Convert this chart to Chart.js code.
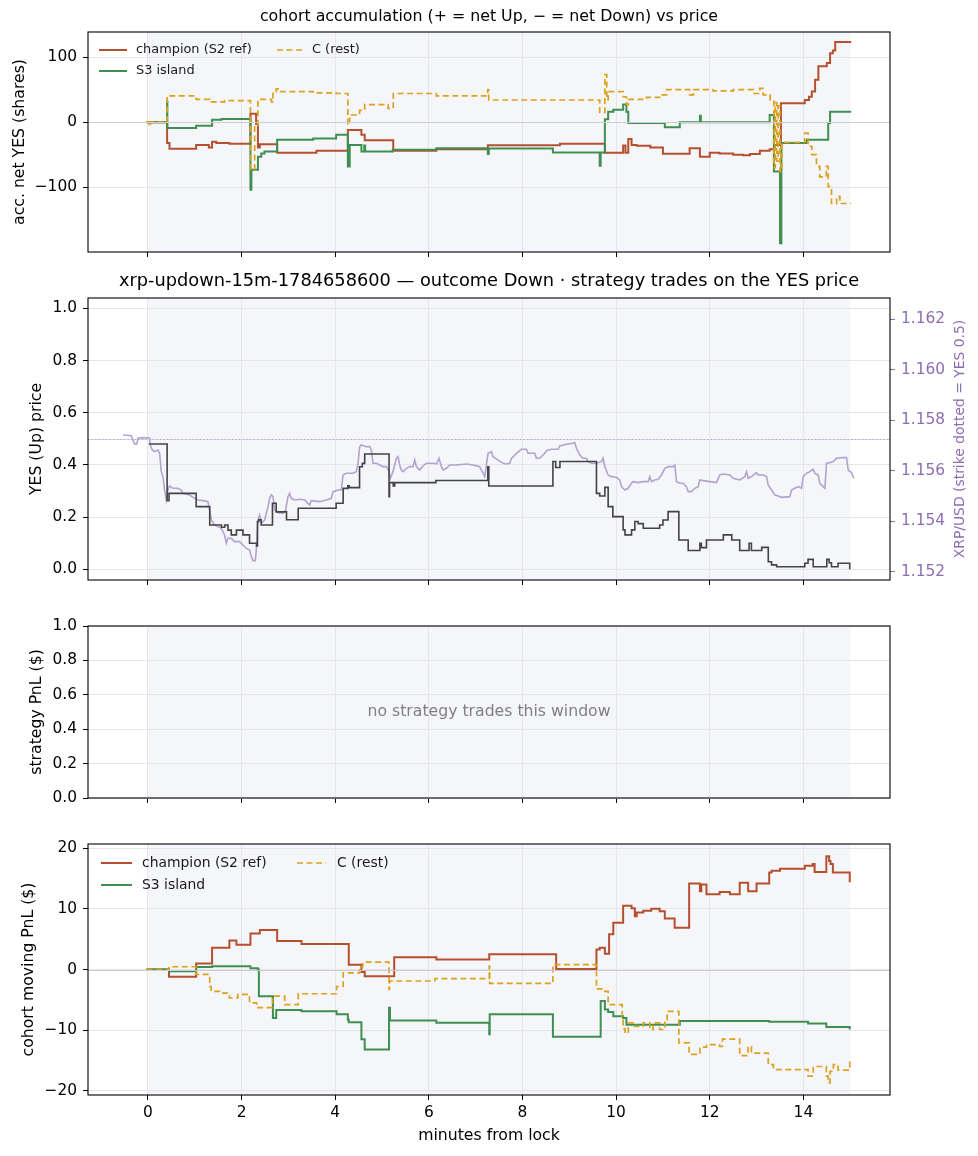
<!DOCTYPE html>
<html>
<head>
<meta charset="utf-8">
<script src="https://cdn.jsdelivr.net/npm/chart.js@4.4.1/dist/chart.umd.min.js"></script>
<style>
  html, body { margin: 0; padding: 0; background: #ffffff; overflow: hidden; }
  body { width: 978px; height: 1156px; position: relative; }
  canvas { position: absolute; left: 0; }
</style>
</head>
<body>
<canvas id="c1" width="978" height="275" style="top:0px"></canvas>
<canvas id="c2" width="978" height="348" style="top:262px"></canvas>
<canvas id="c3" width="978" height="220" style="top:600px"></canvas>
<canvas id="c4" width="978" height="336" style="top:820px"></canvas>
<script>
// ---------------- data ----------------
const X_TICKS = [0, 2, 4, 6, 8, 10, 12, 14];
const LOCK_SPAN = [0, 15];
const ACC_TICKS = [-100, 0, 100];
const YES_TICKS = [0, 0.2, 0.4, 0.6, 0.8, 1.0];
const XRP_TICKS = [1.152, 1.154, 1.156, 1.158, 1.160, 1.162];
const STRAT_TICKS = [0, 0.2, 0.4, 0.6, 0.8, 1.0];
const PNL_TICKS = [-20, -10, 0, 10, 20];
const STRIKE = 1.15727;
const seriesNames = ['champion (S2 ref)', 'S3 island', 'C (rest)'];

// accumulated net YES shares, [minute, shares]
const accChampion = [[-0.03,0],[0.41,-32],[0.46,-41],[1.03,-35],[1.30,-39],[1.37,-30],[1.46,-32],[1.74,-33],[2.19,13],[2.31,-3],[2.35,-39],[2.39,-34],[2.76,-47],[3.60,-44],[4.27,-12],[4.56,-19.5],[4.63,-28],[5.24,-44],[6.16,-41.5],[7.26,-35.4],[8.80,-33.3],[9.76,-47],[10.15,-36],[10.20,-47],[10.26,-26],[10.33,-35],[10.44,-36.4],[10.73,-39],[11.00,-48.7],[11.57,-40],[11.79,-53],[12.00,-47],[12.21,-48],[12.50,-50],[12.71,-51],[12.86,-49],[13.07,-44],[13.28,-41.5],[13.39,-35],[13.52,29],[14.03,34],[14.12,39],[14.18,47],[14.25,65],[14.32,86],[14.50,91],[14.57,106],[14.63,110],[14.68,123],[15.02,123]];
const accS3 = [[-0.03,0],[0.41,32],[0.415,-9],[1.03,-5.6],[1.37,3.6],[1.57,5],[2.19,-104],[2.21,-73],[2.35,-53],[2.42,-48],[2.49,-45],[2.76,-27],[3.53,-25],[4.02,-19.5],[4.27,-68],[4.31,-35],[4.56,-45],[4.62,-36],[4.64,-45],[5.23,-42.5],[6.16,-40],[7.26,-49],[7.28,-40.5],[8.65,-46.7],[9.65,-67],[9.67,-46.7],[9.76,4.6],[9.83,16],[9.94,19],[10.15,27],[10.22,16],[10.26,-1.5],[11.04,-7.7],[11.36,0],[11.79,10],[11.81,0],[13.28,11],[13.37,-76],[13.50,-186],[13.53,-32],[14.07,-27],[14.53,-1.5],[14.57,16],[15.02,16]];
const accC = [[-0.03,0],[0.03,-6],[0.06,0],[0.41,40.5],[1.03,35],[1.32,31],[1.64,33],[2.19,-73],[2.28,-5],[2.35,35],[2.64,31],[2.67,47],[2.74,51],[2.81,47],[3.53,45],[4.02,44],[4.27,-4],[4.31,11],[4.52,18],[4.63,27],[5.13,21],[5.24,44],[6.16,40.5],[7.26,50],[7.28,34],[9.65,15],[9.76,73],[9.80,34],[9.83,47],[10.15,39],[10.22,27],[10.26,35],[10.65,38],[10.93,42],[11.08,50],[11.57,42],[11.65,50],[12.07,48],[12.50,50],[12.93,44],[13.07,52],[13.14,42],[13.29,34],[13.37,-70],[13.40,30],[13.43,-60],[13.46,25],[13.50,-76],[13.54,-31],[14.03,-17],[14.10,-37],[14.18,-50],[14.28,-68],[14.35,-84],[14.49,-68],[14.53,-99],[14.60,-125],[14.71,-114],[14.78,-125],[15.02,-125]];

// YES (Up) price, [minute, price]
const yesPrice = [[0.02,0.48],[0.41,0.263],[0.45,0.291],[1.03,0.24],[1.32,0.17],[1.57,0.161],[1.64,0.17],[1.71,0.15],[1.78,0.132],[1.89,0.15],[2.03,0.132],[2.17,0.10],[2.32,0.089],[2.34,0.183],[2.37,0.19],[2.42,0.17],[2.66,0.253],[2.74,0.22],[2.96,0.19],[3.21,0.234],[4.02,0.253],[4.17,0.31],[4.27,0.32],[4.30,0.313],[4.52,0.393],[4.58,0.406],[4.63,0.442],[5.15,0.278],[5.16,0.332],[5.24,0.319],[5.27,0.332],[6.15,0.34],[7.26,0.393],[7.28,0.319],[8.65,0.413],[8.71,0.39],[8.80,0.413],[9.58,0.291],[9.65,0.281],[9.76,0.314],[9.83,0.24],[9.93,0.202],[10.15,0.151],[10.19,0.132],[10.33,0.151],[10.40,0.183],[10.47,0.175],[10.58,0.157],[10.93,0.17],[11.00,0.189],[11.11,0.221],[11.34,0.112],[11.54,0.072],[11.79,0.10],[11.82,0.083],[11.93,0.112],[12.29,0.132],[12.47,0.112],[12.64,0.072],[12.84,0.10],[12.89,0.072],[13.11,0.084],[13.25,0.029],[13.32,0.017],[13.43,0.010],[14.03,0.023],[14.10,0.038],[14.21,0.010],[14.50,0.038],[14.55,0.025],[14.60,0.010],[14.74,0.023],[14.99,0.0]];

// XRP/USD spot, [minute, price]
const xrpUsd = [[-0.534,1.157415],[-0.356,1.157388],[-0.321,1.157217],[-0.285,1.157058],[-0.235,1.157058],[-0.214,1.157283],[-0.107,1.157309],[0.036,1.157283],[0.050,1.157019],[0.093,1.156820],[0.142,1.156754],[0.214,1.156820],[0.249,1.156688],[0.285,1.155962],[0.321,1.155764],[0.356,1.155236],[0.392,1.154839],[0.427,1.155236],[0.463,1.155394],[0.534,1.155302],[0.641,1.155302],[0.712,1.155236],[0.748,1.155104],[0.890,1.155038],[0.997,1.154905],[1.068,1.154839],[1.175,1.154813],[1.282,1.154773],[1.318,1.154443],[1.353,1.154047],[1.425,1.153849],[1.496,1.153783],[1.567,1.153717],[1.638,1.153453],[1.674,1.153123],[1.709,1.153321],[1.781,1.153321],[1.852,1.153189],[1.959,1.153189],[2.030,1.153057],[2.101,1.152924],[2.172,1.152858],[2.208,1.152594],[2.244,1.152436],[2.293,1.152436],[2.315,1.152858],[2.350,1.154047],[2.386,1.154245],[2.422,1.153915],[2.493,1.154047],[2.564,1.154575],[2.600,1.154905],[2.635,1.155038],[2.671,1.154971],[2.707,1.154443],[2.778,1.154338],[2.885,1.154311],[2.942,1.154443],[2.991,1.154971],[3.027,1.155104],[3.063,1.154905],[3.134,1.154839],[3.241,1.154866],[3.348,1.154839],[3.383,1.154773],[3.454,1.154641],[3.490,1.154813],[3.668,1.154773],[3.810,1.154839],[3.917,1.154905],[3.953,1.155170],[4.060,1.155236],[4.131,1.155236],[4.167,1.155830],[4.238,1.155896],[4.380,1.155896],[4.452,1.155962],[4.487,1.156292],[4.523,1.156952],[4.558,1.157019],[4.665,1.156952],[4.736,1.156952],[4.772,1.156820],[4.808,1.156292],[4.879,1.156292],[4.950,1.156226],[5.021,1.156160],[5.093,1.156160],[5.150,1.155962],[5.178,1.155698],[5.235,1.155962],[5.306,1.156490],[5.342,1.156556],[5.377,1.156226],[5.413,1.156028],[5.449,1.155962],[5.520,1.156094],[5.591,1.156160],[5.662,1.156160],[5.698,1.156424],[5.734,1.156160],[5.805,1.156028],[5.876,1.156187],[5.947,1.156292],[6.090,1.156292],[6.161,1.156266],[6.218,1.156490],[6.268,1.156160],[6.303,1.156028],[6.375,1.156094],[6.446,1.156226],[6.588,1.156226],[6.802,1.156266],[6.944,1.156226],[7.087,1.156160],[7.194,1.155764],[7.265,1.156688],[7.336,1.156754],[7.372,1.156556],[7.514,1.156380],[7.585,1.156292],[7.657,1.156266],[7.728,1.156292],[7.764,1.156490],[7.870,1.156688],[7.977,1.156847],[8.084,1.156847],[8.120,1.156688],[8.262,1.156688],[8.298,1.156490],[8.369,1.156490],[8.476,1.156688],[8.511,1.156794],[8.618,1.156847],[8.761,1.156847],[8.796,1.156979],[8.939,1.157045],[9.081,1.157085],[9.117,1.157111],[9.152,1.156887],[9.224,1.156622],[9.295,1.156490],[9.366,1.156490],[9.402,1.156358],[9.473,1.156292],[9.580,1.156292],[9.687,1.156358],[9.722,1.156490],[9.758,1.156160],[9.829,1.155830],[9.900,1.155764],[10.007,1.155737],[10.078,1.155632],[10.114,1.155368],[10.185,1.155236],[10.256,1.155302],[10.328,1.155500],[10.363,1.155566],[10.470,1.155526],[10.577,1.155566],[10.684,1.155566],[10.719,1.155764],[10.755,1.155566],[10.826,1.155632],[10.897,1.155658],[10.969,1.155830],[11.040,1.156094],[11.111,1.156160],[11.218,1.156160],[11.254,1.156226],[11.289,1.155566],[11.360,1.155500],[11.432,1.155500],[11.503,1.155368],[11.538,1.155170],[11.610,1.155170],[11.681,1.155302],[11.752,1.155368],[11.788,1.155632],[11.859,1.155605],[12.001,1.155566],[12.144,1.155526],[12.215,1.155830],[12.286,1.155870],[12.429,1.155830],[12.500,1.155698],[12.643,1.155632],[12.749,1.155764],[12.785,1.155962],[12.821,1.155698],[12.892,1.155764],[12.999,1.155922],[13.034,1.155830],[13.141,1.155830],[13.212,1.155764],[13.248,1.155434],[13.319,1.155236],[13.390,1.155038],[13.462,1.154998],[13.533,1.154945],[13.711,1.154971],[13.747,1.155236],[13.818,1.155302],[13.889,1.155368],[13.960,1.155302],[13.996,1.155764],[14.067,1.155896],[14.138,1.155962],[14.210,1.156054],[14.245,1.155896],[14.316,1.155830],[14.352,1.155500],[14.423,1.155368],[14.459,1.155302],[14.494,1.156292],[14.566,1.156319],[14.637,1.156358],[14.708,1.156490],[14.851,1.156517],[14.922,1.156517],[14.957,1.156028],[15.028,1.155922],[15.078,1.155698]];

// strategy PnL: no strategy trades this window
const strategyPnl = [];

// cohort moving PnL ($), [minute, dollars]
const pnlChampion = [[-0.03,0],[0.45,-1.2],[1.03,1.0],[1.37,3.6],[1.74,4.8],[1.89,4.1],[2.19,5.95],[2.39,6.5],[2.76,4.7],[3.28,4.2],[4.29,0.8],[4.56,-0.4],[4.63,-1.1],[5.26,2.0],[6.16,1.65],[7.29,2.5],[8.72,0.1],[9.58,3.3],[9.65,3.6],[9.76,2.6],[9.85,5.8],[9.94,7.7],[10.15,10.5],[10.33,10.1],[10.40,8.8],[10.44,9.4],[10.58,9.7],[10.75,10.0],[10.93,9.6],[11.04,8.4],[11.25,6.9],[11.56,14.2],[11.79,12.9],[11.82,14.0],[11.93,12.4],[12.21,12.8],[12.43,12.4],[12.64,14.3],[12.82,12.9],[13.00,14.2],[13.27,16.0],[13.32,16.3],[13.50,16.6],[14.03,17.1],[14.20,17.4],[14.24,16.1],[14.49,18.7],[14.55,17.9],[14.58,17.4],[14.63,16.0],[14.99,14.4]];
const pnlS3 = [[-0.03,0],[0.45,-0.3],[1.03,0.4],[1.37,0.55],[2.19,0.2],[2.35,0],[2.37,-4.4],[2.67,-8.0],[2.74,-6.7],[3.28,-6.9],[4.03,-7.4],[4.27,-8.3],[4.29,-8.7],[4.56,-11.5],[4.63,-13.2],[5.15,-6.3],[5.17,-8.4],[6.16,-8.8],[7.29,-10.7],[7.30,-7.4],[8.65,-11.1],[9.67,-5.2],[9.76,-6.6],[9.83,-7.0],[9.94,-7.7],[10.15,-8.0],[10.22,-9.1],[11.36,-8.5],[13.27,-8.6],[14.10,-8.9],[14.49,-9.5],[14.99,-9.9]];
const pnlC = [[-0.03,0],[0.45,0.45],[1.03,-0.8],[1.32,-2.8],[1.35,-3.6],[1.60,-3.9],[1.74,-4.7],[1.92,-4.1],[2.17,-5.5],[2.32,-6.3],[2.66,-4.4],[2.92,-5.8],[3.21,-4.0],[4.03,-2.8],[4.17,-0.55],[4.52,0.45],[4.59,1.2],[5.15,-3.3],[5.16,-1.9],[6.13,-1.5],[7.29,0.55],[7.30,-2.3],[8.65,0.8],[9.58,-3.2],[9.76,-3.6],[9.83,-5.8],[10.13,-7.7],[10.15,-9.8],[10.19,-10.5],[10.26,-8.8],[10.36,-9.4],[10.58,-8.8],[10.72,-9.9],[10.79,-8.8],[10.93,-9.9],[11.04,-8.3],[11.09,-6.9],[11.34,-12.1],[11.56,-14.0],[11.79,-12.8],[11.93,-12.4],[12.21,-12.7],[12.27,-11.5],[12.64,-14.2],[12.82,-12.7],[12.89,-13.8],[13.25,-15.7],[13.36,-16.5],[14.10,-17.6],[14.21,-16.0],[14.49,-17.6],[14.53,-18.7],[14.57,-16.8],[14.64,-15.7],[14.74,-16.6],[14.99,-14.6]];

// ---------------- styling ----------------
const FONT = "'DejaVu Sans', 'Noto Sans', sans-serif";
Chart.defaults.font.family = FONT;
Chart.defaults.color = '#000000';
const RED = '#b5502f', GREEN = '#3f8e52', GOLD = '#dba11f';
const INK = '#434343', PURPLE_LINE = '#b4a2cf', PURPLE_TXT = '#8f6db5';
const GRID = '#e5e5ea', SPAN_BG = '#f5f6fa', ZERO = '#cdcdcd';
const X_MIN = -1.28, X_MAX = 15.85;
const TICK_PX = 15.4;
const LABEL_PX = 15.7;

const xy = arr => arr.map(p => ({ x: p[0], y: p[1] }));
function fmt(v, dec) {
  const s = Math.abs(v).toFixed(dec);
  return (v < 0 && Number(s) !== 0 ? '\u2212' : '') + s;
}

function xAxis(showLabels, height, title) {
  return {
    type: 'linear', min: X_MIN, max: X_MAX,
    afterBuildTicks: s => { s.ticks = X_TICKS.map(v => ({ value: v })); },
    afterFit: s => { s.height = height; },
    ticks: { display: showLabels, autoSkip: false, maxRotation: 0, includeBounds: false,
             padding: 4, font: { size: TICK_PX }, color: '#000', callback: v => fmt(v, 0) },
    grid: { color: GRID, lineWidth: 1, tickColor: '#000', tickLength: 5, tickWidth: 1 },
    border: { display: false },
    title: title ? { display: true, text: title, font: { size: LABEL_PX }, color: '#000',
                     padding: { top: 0, bottom: 11 } } : { display: false }
  };
}
function yAxis(min, max, ticks, dec, title, titlePad) {
  return {
    type: 'linear', position: 'left', min, max,
    afterBuildTicks: s => { s.ticks = ticks.map(v => ({ value: v })); },
    afterFit: s => { s.width = 88; },
    ticks: { autoSkip: false, padding: 6, font: { size: TICK_PX }, color: '#000', callback: v => fmt(v, dec) },
    grid: { color: GRID, lineWidth: 1, tickColor: '#000', tickLength: 5 },
    border: { display: false },
    title: { display: true, text: title, font: { size: LABEL_PX }, color: '#000',
             padding: { top: titlePad, bottom: 0 } }
  };
}
function stepSet(data, color, width, dash, order, axis) {
  return { data: xy(data), borderColor: color, borderWidth: width, borderDash: dash || [],
           stepped: true, pointRadius: 0, fill: false, order: order, yAxisID: axis || 'y',
           borderCapStyle: 'butt', borderJoinStyle: 'miter' };
}

const decor = {
  id: 'decor',
  beforeDraw(chart, args, o) {
    const { ctx, chartArea: a, scales } = chart;
    const x0 = scales.x.getPixelForValue(LOCK_SPAN[0]);
    const x1 = scales.x.getPixelForValue(LOCK_SPAN[1]);
    ctx.save();
    ctx.fillStyle = SPAN_BG;
    ctx.fillRect(x0, a.top, x1 - x0, a.bottom - a.top);
    ctx.restore();
  },
  beforeDatasetsDraw(chart, args, o) {
    const { ctx, chartArea: a, scales } = chart;
    if (o.strike) {
      const py = Math.round(scales.y1.getPixelForValue(STRIKE)) + 0.5;
      ctx.save();
      ctx.strokeStyle = '#dcdce2'; ctx.lineWidth = 1;
      ctx.beginPath(); ctx.moveTo(a.left, py); ctx.lineTo(a.right, py); ctx.stroke();
      ctx.strokeStyle = '#b39fd3'; ctx.setLineDash([1.2, 2.4]);
      ctx.beginPath(); ctx.moveTo(a.left, py); ctx.lineTo(a.right, py); ctx.stroke();
      ctx.restore();
    }
  },
  afterDatasetsDraw(chart, args, o) {
    const { ctx, chartArea: a, scales } = chart;
    if (o.zero) {
      const py = Math.round(scales.y.getPixelForValue(0)) + 0.5;
      ctx.save();
      ctx.strokeStyle = ZERO; ctx.lineWidth = 1;
      ctx.beginPath(); ctx.moveTo(a.left, py); ctx.lineTo(a.right, py); ctx.stroke();
      ctx.restore();
    }
  },
  afterDraw(chart, args, o) {
    const { ctx, chartArea: a } = chart;
    ctx.save();
    ctx.strokeStyle = '#000'; ctx.lineWidth = 1.1;
    ctx.strokeRect(a.left, a.top, a.right - a.left, a.bottom - a.top);
    if (o.title) {
      ctx.fillStyle = '#000'; ctx.textAlign = 'center'; ctx.textBaseline = 'middle';
      ctx.font = o.title.size + 'px ' + FONT;
      ctx.fillText(o.title.text, (a.left + a.right) / 2, o.title.y);
    }
    if (o.note) {
      ctx.fillStyle = '#808080'; ctx.textAlign = 'center'; ctx.textBaseline = 'middle';
      ctx.font = LABEL_PX + 'px ' + FONT;
      ctx.fillText(o.note, (a.left + a.right) / 2, (a.top + a.bottom) / 2);
    }
    if (o.rightLabel) {
      ctx.translate(o.rightLabel.x, (a.top + a.bottom) / 2 + o.rightLabel.dy);
      ctx.rotate(-Math.PI / 2);
      ctx.fillStyle = PURPLE_TXT; ctx.textAlign = 'center'; ctx.textBaseline = 'middle';
      ctx.font = o.rightLabel.size + 'px ' + FONT;
      ctx.fillText(o.rightLabel.text, 0, 0);
    }
    ctx.restore();
    if (o.legend) {
      const L = o.legend;
      ctx.save();
      ctx.font = L.size + 'px ' + FONT;
      ctx.textAlign = 'left'; ctx.textBaseline = 'middle';
      L.items.forEach(it => {
        const y = a.top + it.dy;
        ctx.strokeStyle = it.color; ctx.lineWidth = it.w;
        ctx.setLineDash(it.dash ? it.dash : []);
        ctx.beginPath(); ctx.moveTo(it.x0, y); ctx.lineTo(it.x1, y); ctx.stroke();
        ctx.setLineDash([]);
        ctx.fillStyle = '#1a1a1a';
        ctx.fillText(it.text, it.tx, y);
      });
      ctx.restore();
    }
  }
};
Chart.register(decor);

function baseOptions(padding, decorOpts, scales) {
  return {
    responsive: false, animation: false, events: [],
    layout: { padding },
    plugins: { legend: { display: false }, tooltip: { enabled: false }, decor: decorOpts },
    scales
  };
}

// ---------------- panel 1: accumulation ----------------
new Chart(document.getElementById('c1'), {
  type: 'line',
  data: { datasets: [
    stepSet(accChampion, RED, 2, null, 3),
    stepSet(accS3, GREEN, 2, null, 2),
    stepSet(accC, GOLD, 1.7, [6, 3.5], 1)
  ] },
  options: baseOptions({ top: 32, right: 88, bottom: 0, left: 0 }, {
    zero: true,
    title: { text: 'cohort accumulation (+ = net Up, \u2212 = net Down) vs price', y: 17, size: 15.8 },
    legend: { size: 12.9, items: [
      { text: seriesNames[0], color: RED, w: 2, x0: 99, x1: 127, tx: 136, dy: 18 },
      { text: seriesNames[1], color: GREEN, w: 2, x0: 99, x1: 127, tx: 136, dy: 39 },
      { text: seriesNames[2], color: GOLD, w: 1.7, dash: [6, 3.5], x0: 277, x1: 303, tx: 312, dy: 18 }
    ] }
  }, {
    x: xAxis(false, 23),
    y: yAxis(-199.5, 138.5, ACC_TICKS, 0, 'acc. net YES (shares)', 11)
  })
});

// ---------------- panel 2: YES price & XRP ----------------
new Chart(document.getElementById('c2'), {
  type: 'line',
  data: { datasets: [
    { data: xy(xrpUsd), yAxisID: 'y1', borderColor: PURPLE_LINE, borderWidth: 1.6, pointRadius: 0,
      fill: false, tension: 0, order: 2 },
    stepSet(yesPrice, INK, 1.6, null, 1)
  ] },
  options: baseOptions({ top: 36, right: 0, bottom: 0, left: 0 }, {
    strike: true,
    title: { text: 'xrp-updown-15m-1784658600 \u2014 outcome Down \u00b7 strategy trades on the YES price', y: 19.5, size: 17.8 },
    rightLabel: { text: 'XRP/USD (strike dotted = YES 0.5)', x: 960, dy: 0, size: 13.9 }
  }, {
    x: xAxis(false, 30),
    y: yAxis(-0.041, 1.0395, YES_TICKS, 1, 'YES (Up) price', 28),
    y1: {
      type: 'linear', position: 'right', min: 1.15167, max: 1.16284,
      afterBuildTicks: s => { s.ticks = XRP_TICKS.map(v => ({ value: v })); },
      afterFit: s => { s.width = 88; },
      ticks: { autoSkip: false, padding: 6, font: { size: TICK_PX }, color: PURPLE_TXT, callback: v => v.toFixed(3) },
      grid: { drawOnChartArea: false, tickColor: PURPLE_TXT, tickLength: 5 },
      border: { display: false },
      title: { display: false }
    }
  })
});

// ---------------- panel 3: strategy PnL ----------------
new Chart(document.getElementById('c3'), {
  type: 'line',
  data: { datasets: [ stepSet(strategyPnl, '#1f77b4', 1.6, null, 1) ] },
  options: baseOptions({ top: 26, right: 88, bottom: 0, left: 0 }, {
    note: 'no strategy trades this window'
  }, {
    x: xAxis(false, 22),
    y: yAxis(0, 1, STRAT_TICKS, 1, 'strategy PnL ($)', 28)
  })
});

// ---------------- panel 4: cohort moving PnL ----------------
new Chart(document.getElementById('c4'), {
  type: 'line',
  data: { datasets: [
    stepSet(pnlChampion, RED, 2, null, 3),
    stepSet(pnlS3, GREEN, 2, null, 2),
    stepSet(pnlC, GOLD, 1.7, [6, 3.5], 1)
  ] },
  options: baseOptions({ top: 24, right: 88, bottom: 0, left: 0 }, {
    zero: true,
    legend: { size: 13.9, items: [
      { text: seriesNames[0], color: RED, w: 2, x0: 101, x1: 132, tx: 142, dy: 19 },
      { text: seriesNames[1], color: GREEN, w: 2, x0: 101, x1: 132, tx: 142, dy: 41 },
      { text: seriesNames[2], color: GOLD, w: 1.7, dash: [6, 3.5], x0: 297, x1: 326, tx: 337, dy: 19 }
    ] }
  }, {
    x: xAxis(true, 61, 'minutes from lock'),
    y: yAxis(-20.7, 20.7, PNL_TICKS, 0, 'cohort moving PnL ($)', 20)
  })
});
</script>
</body>
</html>
